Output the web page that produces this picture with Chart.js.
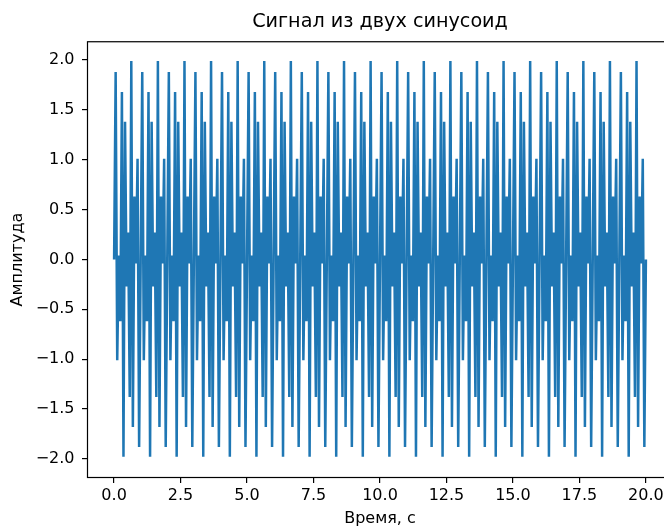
<!DOCTYPE html>
<html>
<head>
<meta charset="utf-8">
<title>Сигнал из двух синусоид</title>
<script src="https://cdn.jsdelivr.net/npm/chart.js@4"></script>
<style>
    html, body { margin: 0; padding: 0; background: #fff; overflow: hidden; }
</style>
</head>
<body>
<canvas id="signal" width="700" height="528"></canvas>
<script>
// one second of the sampled signal (17 samples), the waveform repeats every second
var period = [0, 1.88, -1.01, 0.04, -0.62, 1.68, -1.98, 1.38, -0.27,
              0.27, -1.38, 1.99, -1.68, 0.63, -0.04, 1.01, -1.88];
var samplesPerSecond = 17;
var duration = 20;

var xTicks = [0, 2.5, 5, 7.5, 10, 12.5, 15, 17.5, 20];
var yTicks = [-2, -1.5, -1, -0.5, 0, 0.5, 1, 1.5, 2];

var points = [];
for (var k = 0; k <= duration * samplesPerSecond; k++) {
    points.push({ x: k / samplesPerSecond, y: period[k % period.length] });
}

var font = { family: "'DejaVu Sans', sans-serif", size: 16 };

function fmt(v) {
    var s = Math.abs(v).toFixed(1);
    return v < 0 ? "\u2212" + s : s;
}

// full box around the plot area, like a matplotlib axes
var frame = {
    id: "frame",
    afterDraw: function (chart) {
        var a = chart.chartArea;
        var c = chart.ctx;
        c.save();
        c.strokeStyle = "#000";
        c.lineWidth = 1.2;
        c.strokeRect(a.left, a.top, a.right - a.left, a.bottom - a.top);
        c.restore();
    },
};

var ctx = document.getElementById("signal");
var chart = new Chart(ctx, {
    type: "line",
    data: {
        datasets: [
            {
                label: "Сигнал",
                data: points,
                borderColor: "#1f77b4",
                borderWidth: 2.5,
                pointRadius: 0,
                tension: 0,
                fill: false,
            },
        ],
    },
    options: {
        responsive: false,
        animation: false,
        layout: {
            padding: { left: 0, right: 27.5, top: 0, bottom: 0 },
        },
        scales: {
            x: {
                type: "linear",
                min: -1,
                max: 21,
                afterBuildTicks: function (scale) {
                    scale.ticks = xTicks.map(function (v) { return { value: v }; });
                },
                afterFit: function (scale) {
                    scale.height = 50.5;
                },
                ticks: {
                    color: "#000",
                    font: font,
                    padding: 3,
                    maxRotation: 0,
                    callback: function (v) { return fmt(v); },
                },
                grid: {
                    drawOnChartArea: false,
                    color: "#000",
                    tickLength: 5.5,
                    lineWidth: 1.2,
                },
                border: { display: false },
                title: {
                    display: true,
                    text: "Время, с",
                    color: "#000",
                    font: font,
                    padding: { top: 0, bottom: 0 },
                },
            },
            y: {
                type: "linear",
                min: -2.187,
                max: 2.183,
                afterBuildTicks: function (scale) {
                    scale.ticks = yTicks.map(function (v) { return { value: v }; });
                },
                afterFit: function (scale) {
                    scale.width = 87.5;
                },
                ticks: {
                    color: "#000",
                    font: font,
                    padding: 7.5,
                    callback: function (v) { return fmt(v); },
                },
                grid: {
                    drawOnChartArea: false,
                    color: "#000",
                    tickLength: 5.5,
                    lineWidth: 1.2,
                },
                border: { display: false },
                title: {
                    display: true,
                    text: "Амплитуда",
                    color: "#000",
                    font: font,
                    padding: { top: 8.4, bottom: 0 },
                },
            },
        },
        plugins: {
            legend: { display: false },
            tooltip: { enabled: false },
            title: {
                display: true,
                text: "Сигнал из двух синусоид",
                fullSize: false,
                color: "#000",
                font: { family: "'DejaVu Sans', sans-serif", size: 19.2, weight: "normal" },
                padding: { top: 10.5, bottom: 8.2 },
            },
        },
    },
    plugins: [frame],
});
</script>
</body>
</html>
